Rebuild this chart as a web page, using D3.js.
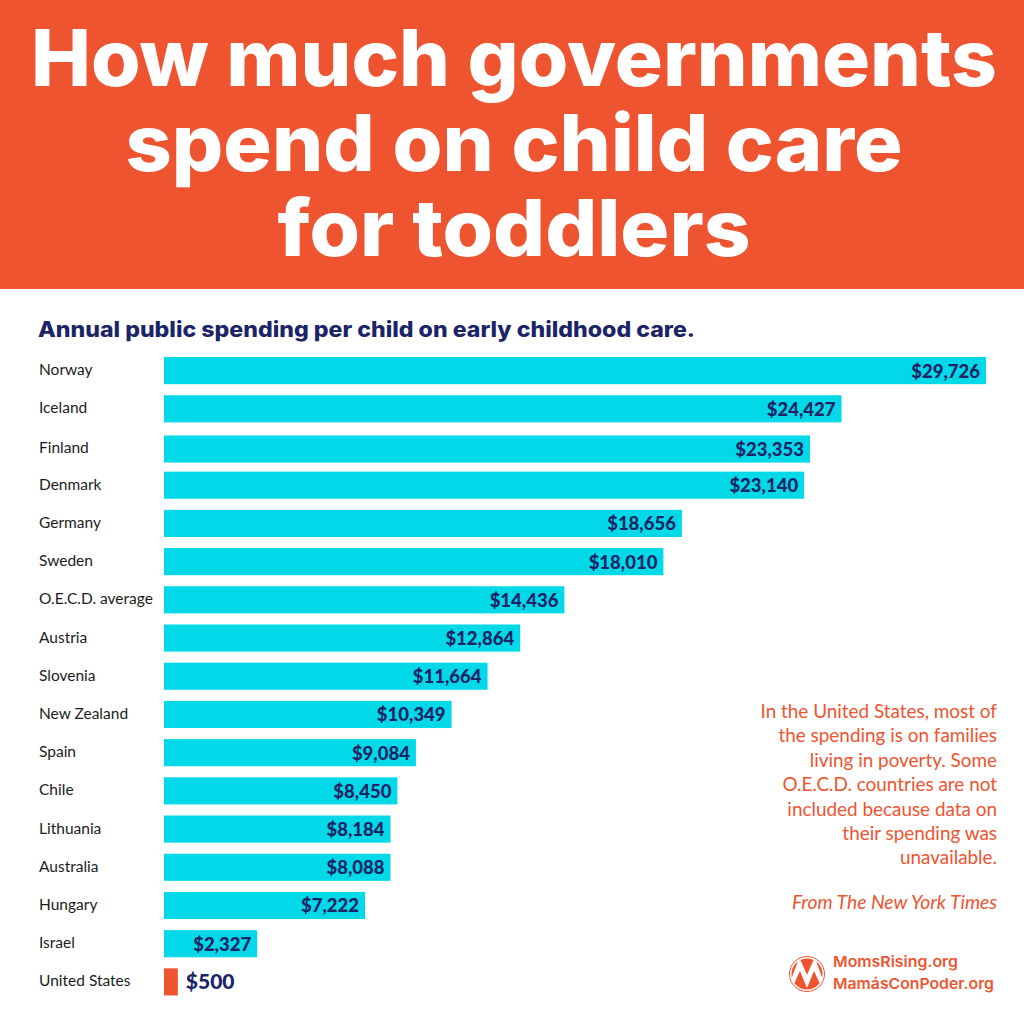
<!DOCTYPE html>
<html>
<head>
<meta charset="utf-8">
<script src="https://cdn.jsdelivr.net/npm/d3@7"></script>
<style>
  html, body { margin: 0; padding: 0; background: #fff; }
  svg { display: block; }
</style>
</head>
<body>
<svg id="chart" width="1024" height="1024"></svg>
<script>
const countries = ['Norway','Iceland','Finland','Denmark','Germany','Sweden','O.E.C.D. average','Austria','Slovenia','New Zealand','Spain','Chile','Lithuania','Australia','Hungary','Israel','United States'];
// bar lengths as drawn in the picture (Israel's bar is longer than its printed figure)
const barValues = [29726,24500,23360,23150,18730,18060,14480,12880,11700,10400,9110,8440,8190,8190,7270,3370,500];
const valueLabels = ['$29,726','$24,427','$23,353','$23,140','$18,656','$18,010','$14,436','$12,864','$11,664','$10,349','$9,084','$8,450','$8,184','$8,088','$7,222','$2,327','$500'];
const titleLines = ['How much governments','spend on child care','for toddlers'];
const titleWidths = [966,777,473];
const noteLines = ['In the United States, most of','the spending is on families','living in poverty. Some','O.E.C.D. countries are not','included because data on','their spending was','unavailable.'];

const orange = '#ee5430';
const cyan = '#02d9e8';
const navy = '#1a2466';

const svg = d3.select('#chart');

// header
svg.append('rect').attr('width',1024).attr('height',289).attr('fill',orange);
svg.selectAll('.title').data(titleLines).enter().append('text')
    .attr('class','title')
    .attr('x',514)
    .attr('y',(d,i) => 86 + i*85)
    .attr('text-anchor','middle')
    .attr('textLength',(d,i) => titleWidths[i])
    .attr('lengthAdjust','spacingAndGlyphs')
    .attr('fill','white')
    .style('font-family','Inter')
    .style('font-weight',800)
    .style('font-size','78px')
    .text(d => d);

svg.append('text')
    .attr('x',38).attr('y',337)
    .attr('textLength',657)
    .attr('lengthAdjust','spacingAndGlyphs')
    .attr('fill',navy)
    .style('font-family','Inter')
    .style('font-weight',800)
    .style('font-size','21px')
    .text('Annual public spending per child on early childhood care.');

// bars
const x = d3.scaleLinear().domain([0,29726]).range([164,986]);
const y = d3.scaleBand().domain(countries).range([351.5,1001]).paddingInner(0.29).paddingOuter(0.145);
// the Finland row sits a little low in the original
const rowY = d => y(d) + (d == 'Finland' ? 2 : 0);

const bars = svg.append('g').attr('id','bars');
bars.selectAll('rect').data(countries).enter().append('rect')
    .attr('x',x(0))
    .attr('y',d => rowY(d))
    .attr('width',(d,i) => x(barValues[i]) - x(0))
    .attr('height',y.bandwidth())
    .attr('fill',(d,i) => i == 16 ? orange : cyan);

svg.selectAll('.country').data(countries).enter().append('text')
    .attr('class','country')
    .attr('x',39)
    .attr('y',d => y(d) + y.bandwidth()/2 + (d == 'Finland' ? 5.5 : 4.5))
    .attr('fill','#1c1c1c')
    .style('font-family','Lato')
    .style('font-size','15.5px')
    .text(d => d);

svg.selectAll('.val').data(countries).enter().append('text')
    .attr('class','val')
    .attr('x',(d,i) => i == 16 ? x(barValues[i]) + 8 : x(barValues[i]) - 6)
    .attr('y',d => rowY(d) + y.bandwidth()/2 + 7)
    .attr('text-anchor',(d,i) => i == 16 ? 'start' : 'end')
    .attr('fill',navy)
    .style('font-family','Lato')
    .style('font-weight',900)
    .style('font-size',(d,i) => i == 16 ? '21px' : '18.5px')
    .text((d,i) => valueLabels[i]);

// side note
svg.selectAll('.note').data(noteLines).enter().append('text')
    .attr('class','note')
    .attr('x',997)
    .attr('y',(d,i) => 718 + i*24.4)
    .attr('text-anchor','end')
    .attr('fill',orange)
    .style('font-family','Lato')
    .style('font-size','18.9px')
    .text(d => d);

svg.append('text')
    .attr('x',997).attr('y',909)
    .attr('text-anchor','end')
    .attr('fill',orange)
    .style('font-family','Lato')
    .style('font-style','italic')
    .style('font-size','19.3px')
    .text('From The New York Times');

// logo
const logo = svg.append('g').attr('transform','translate(807,974)');
logo.append('circle').attr('r',17.5).attr('fill','none').attr('stroke',orange).attr('stroke-width',1);
logo.append('circle').attr('r',15.5).attr('fill',orange);
logo.append('path').attr('d','M-16,6 L-9,-13 L-6.5,-14 L0,1 L6.5,-14 L9,-13 L16,6 L13,10 L7,-3 L0,14 L-7,-3 L-13,10 Z').attr('fill','white');

const siteWidths = [125,161];
svg.selectAll('.site').data(['MomsRising.org','MamásConPoder.org']).enter().append('text')
    .attr('class','site')
    .attr('x',833)
    .attr('y',(d,i) => 967 + i*22)
    .attr('textLength',(d,i) => siteWidths[i])
    .attr('lengthAdjust','spacingAndGlyphs')
    .attr('fill',orange)
    .style('font-family','Inter')
    .style('font-weight',600)
    .style('font-size','15px')
    .text(d => d);
</script>
</body>
</html>
